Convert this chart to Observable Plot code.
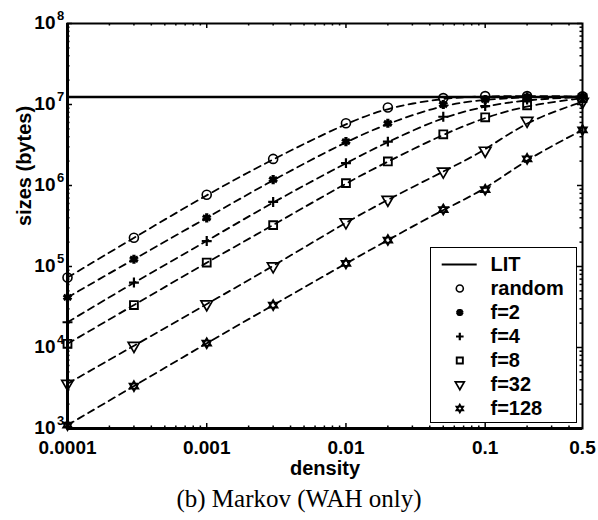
<!DOCTYPE html>
<html><head><meta charset="utf-8">
<script src="https://cdn.jsdelivr.net/npm/d3@7"></script>
<script src="https://cdn.jsdelivr.net/npm/@observablehq/plot@0.6"></script>
<style>
body{margin:0;background:#fff;}
#wrap{position:relative;width:598px;height:520px;}
#legend{position:absolute;left:430px;top:247px;width:145px;height:174px;border:1px solid #000;background:#fff;}
#caption{position:absolute;left:0;top:485px;width:598px;text-align:center;font-family:"Liberation Serif","Times New Roman",serif;font-size:25px;line-height:28px;color:#000;}
</style></head><body>
<div id="wrap"><div id="chart"></div><div id="legend"></div><div id="caption">(b) Markov (WAH only)</div></div>
<script>
// ---- data ----
const density = [0.0001, 0.0003, 0.001, 0.003, 0.01, 0.02, 0.05, 0.1, 0.2, 0.5];
const LIT = 1.24e7;
const random = [7.3e4, 2.26e5, 7.7e5, 2.13e6, 5.86e6, 9.2e6, 1.2e7, 1.27e7, 1.27e7, 1.26e7];
const f2     = [4.15e4, 1.23e5, 3.98e5, 1.18e6, 3.48e6, 5.86e6, 1.0e7, 1.15e7, 1.24e7, 1.25e7];
const f4     = [2.05e4, 6.34e4, 2.06e5, 6.27e5, 1.89e6, 3.48e6, 7.06e6, 9.55e6, 1.15e7, 1.24e7];
const f8     = [1.11e4, 3.34e4, 1.12e5, 3.24e5, 1.07e6, 1.98e6, 4.29e6, 6.95e6, 9.75e6, 1.2e7];
const f32    = [3.57e3, 1.05e4, 3.43e4, 1.01e5, 3.52e5, 6.69e5, 1.49e6, 2.7e6, 6.3e6, 1.08e7];
const f128   = [1.1e3, 3.34e3, 1.13e4, 3.34e4, 1.09e5, 2.12e5, 5.05e5, 8.88e5, 2.13e6, 4.85e6];
const seriesNames = ["random", "f=2", "f=4", "f=8", "f=32", "f=128"];
const seriesValues = [random, f2, f4, f8, f32, f128];
const legendNames = ["LIT", "random", "f=2", "f=4", "f=8", "f=32", "f=128"];
const xTickValues = [0.0001, 0.001, 0.01, 0.1, 0.5];
const xTickLabels = ["0.0001", "0.001", "0.01", "0.1", "0.5"];
const yTickValues = [1e3, 1e4, 1e5, 1e6, 1e7, 1e8];
const yTickExponents = ["3", "4", "5", "6", "7", "8"];

// ---- symbols / styles ----
const hexagram = {
  draw(ctx, size) {
    const R = Math.sqrt(size / Math.PI);
    for (const a0 of [-Math.PI / 2, Math.PI / 2]) {
      for (let k = 0; k < 3; k++) {
        const a = a0 + k * 2 * Math.PI / 3;
        const x = R * Math.cos(a), y = R * Math.sin(a);
        if (k) ctx.lineTo(x, y); else ctx.moveTo(x, y);
      }
      ctx.closePath();
    }
  }
};
const styles = {
  "random": {symbol: "circle", r: 4.5, strokeWidth: 1.6},
  "f=2": {symbol: "asterisk", r: 4.3, strokeWidth: 3.2},
  "f=4": {symbol: "plus", r: 3.3, strokeWidth: 2.2},
  "f=8": {symbol: "square2", r: 5, strokeWidth: 1.9},
  "f=32": {symbol: "triangle2", r: 5.5, strokeWidth: 1.7, rotate: 180},
  "f=128": {symbol: hexagram, r: 5, strokeWidth: 1.8}
};

const rows = seriesNames.flatMap((name, s) => density.map((d, i) => ({name, x: d, y: seriesValues[s][i]})));

// ---- layout ----
const W = 598, H = 484, mT = 23, mB = 56, mL = 67, mR = 16;
const plotH = H - mT - mB, plotW = W - mL - mR;

const xMinor = [];
for (const dec of [1e-4, 1e-3, 1e-2, 1e-1]) for (let m = 2; m <= 9; m++) { const v = dec * m; if (v < 0.5) xMinor.push(v); }
const xMajor = [1e-4, 1e-3, 1e-2, 1e-1];
const yMinor = [];
for (const dec of [1e3, 1e4, 1e5, 1e6, 1e7]) for (let m = 2; m <= 9; m++) yMinor.push(dec * m);

const font = {fontFamily: "'Liberation Sans', Arial, sans-serif", fontWeight: "bold"};

const marks = [
  // inward ticks
  Plot.tickX(xMajor, {x: d => d, insetTop: plotH - 5, strokeWidth: 1.5}),
  Plot.tickX(xMajor, {x: d => d, insetBottom: plotH - 5, strokeWidth: 1.5}),
  Plot.tickX(xMinor, {x: d => d, insetTop: plotH - 2.5, strokeWidth: 1.5}),
  Plot.tickX(xMinor, {x: d => d, insetBottom: plotH - 2.5, strokeWidth: 1.5}),
  Plot.tickY(yTickValues, {y: d => d, insetRight: plotW - 5, strokeWidth: 1.5}),
  Plot.tickY(yTickValues, {y: d => d, insetLeft: plotW - 5, strokeWidth: 1.5}),
  Plot.tickY(yMinor, {y: d => d, insetRight: plotW - 2.5, strokeWidth: 1.5}),
  Plot.tickY(yMinor, {y: d => d, insetLeft: plotW - 2.5, strokeWidth: 1.5}),
  // LIT line
  Plot.ruleY([LIT], {y: d => d, stroke: "#000", strokeWidth: 2.5}),
  // dashed series lines
  Plot.line(rows, {x: "x", y: "y", z: "name", curve: "basis", stroke: "#000", strokeWidth: 1.8, strokeDasharray: "7,5"}),
  // markers
  ...seriesNames.map(name => Plot.dot(rows.filter(r => r.name === name), {
    x: "x", y: "y", stroke: "#000", fill: "none", ...styles[name]
  })),
  Plot.frame({stroke: "#000", strokeWidth: 2}),
  // heavier left and bottom axes
  Plot.ruleX([0.0001], {x: d => d, stroke: "#000", strokeWidth: 3}),
  Plot.ruleY([1e3], {y: d => d, stroke: "#000", strokeWidth: 3}),
  // x tick labels
  Plot.text(xTickValues, {x: d => d, text: (d, i) => xTickLabels[i], frameAnchor: "bottom", lineAnchor: "top", dy: 12, fontSize: 19, ...font}),
  // y tick labels 10^n
  Plot.text(yTickValues, {y: d => d, text: () => "10", frameAnchor: "left", textAnchor: "end", dx: -12, dy: -0.5, fontSize: 19, ...font}),
  Plot.text(yTickValues, {y: d => d, text: (d, i) => yTickExponents[i], frameAnchor: "left", textAnchor: "start", dx: -10.5, dy: -8, fontSize: 13, ...font}),
  // axis titles
  Plot.text(["density"], {text: d => d, frameAnchor: "bottom", lineAnchor: "top", dy: 32, fontSize: 20, ...font}),
  Plot.text(["sizes (bytes)"], {text: d => d, frameAnchor: "left", dx: -43, rotate: -90, fontSize: 20, ...font})
];

const chart = Plot.plot({
  width: W, height: H,
  marginTop: mT, marginBottom: mB, marginLeft: mL, marginRight: mR,
  x: {type: "log", domain: [0.0001, 0.5], axis: null},
  y: {type: "log", domain: [1e3, 1e8], axis: null},
  style: {background: "#fff", color: "#000", fontFamily: "'Liberation Sans', Arial, sans-serif", overflow: "visible"},
  marks
});
document.getElementById("chart").appendChild(chart);

// ---- legend ----
const legendScale = 0.78;
const legend = Plot.plot({
  width: 145, height: 174,
  marginTop: 14.7, marginBottom: 12, marginLeft: 0, marginRight: 0,
  y: {type: "point", domain: legendNames, padding: 0, axis: null},
  style: {background: "#fff", color: "#000", overflow: "visible"},
  marks: [
    Plot.ruleY(["LIT"], {y: d => d, insetLeft: 10.7, insetRight: 99.3, stroke: "#000", strokeWidth: 2}),
    ...seriesNames.map(name => Plot.dot([name], {
      y: d => d, frameAnchor: "left", dx: 28.3, stroke: "#000", fill: "none",
      ...styles[name], r: styles[name].r * legendScale
    })),
    Plot.text(legendNames, {y: d => d, text: d => d, frameAnchor: "left", textAnchor: "start", dx: 59, fontSize: 20, ...font})
  ]
});
document.getElementById("legend").appendChild(legend);
</script>
</body></html>
